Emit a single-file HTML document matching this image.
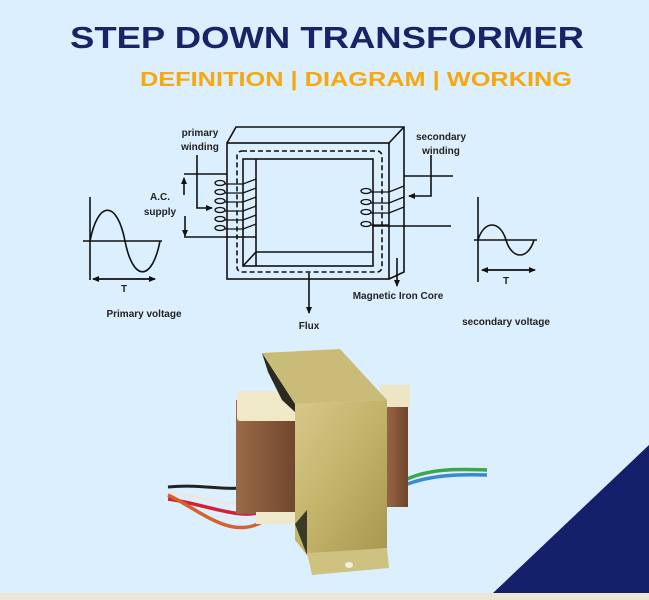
<!DOCTYPE html>
<html><head><meta charset="utf-8"><style>
html,body{margin:0;padding:0;width:649px;height:600px;overflow:hidden;background:#dcefff;}
svg{display:block}
</style></head><body>
<svg width="649" height="600" viewBox="0 0 649 600" xmlns="http://www.w3.org/2000/svg">
<defs>
<marker id="ah" markerWidth="8" markerHeight="8" refX="6" refY="4" orient="auto" markerUnits="userSpaceOnUse"><path d="M0,1 L7,4 L0,7 z" fill="#111"/></marker>
<linearGradient id="gold" x1="0" y1="0" x2="1" y2="1"><stop offset="0" stop-color="#d6c98a"/><stop offset="0.5" stop-color="#c2b36a"/><stop offset="1" stop-color="#a8974e"/></linearGradient>
<linearGradient id="brown" x1="0" y1="0" x2="1" y2="0"><stop offset="0" stop-color="#9a6a47"/><stop offset="0.4" stop-color="#8a5c3d"/><stop offset="1" stop-color="#6e452c"/></linearGradient>
</defs>
<rect width="649" height="600" fill="#dcefff"/>
<rect y="593" width="649" height="7" fill="#ede6d6"/>
<polygon points="493,593 649,445 649,593" fill="#15206a"/>

<text x="327" y="48" text-anchor="middle" font-family="Liberation Sans, sans-serif" font-weight="bold" font-size="31" fill="#182468" textLength="514" lengthAdjust="spacingAndGlyphs">STEP DOWN TRANSFORMER</text>
<text x="140" y="86" font-family="Liberation Sans, sans-serif" font-weight="bold" font-size="20" fill="#f6a810" textLength="432" lengthAdjust="spacingAndGlyphs">DEFINITION | DIAGRAM  | WORKING</text>

<g stroke="#111" stroke-width="1.6" fill="none">
<rect x="227" y="143" width="162" height="136"/>
<polyline points="227,143 236,127 404,127 404,272 389,279"/>
<line x1="389" y1="143" x2="404" y2="127"/>
<rect x="243" y="159" width="130" height="107"/>
<polyline points="256,266 256,159"/>
<polyline points="243,266 256,252 373,252"/>
<rect x="237" y="151" width="145" height="121" rx="5" stroke-dasharray="5,3"/>
<g stroke-width="1.3">
<ellipse cx="220" cy="183" rx="5" ry="2.5"/><ellipse cx="220" cy="192" rx="5" ry="2.5"/><ellipse cx="220" cy="201" rx="5" ry="2.5"/><ellipse cx="220" cy="210" rx="5" ry="2.5"/><ellipse cx="220" cy="219" rx="5" ry="2.5"/><ellipse cx="220" cy="228" rx="5" ry="2.5"/>
<path d="M225,184 H243 L256,179 M225,193 H243 L256,188 M225,202 H243 L256,197 M225,211 H243 L256,206 M225,220 H243 L256,215 M225,229 H243 L256,224"/>
<ellipse cx="366" cy="191" rx="5" ry="2.5"/><ellipse cx="366" cy="202" rx="5" ry="2.5"/><ellipse cx="366" cy="212" rx="5" ry="2.5"/><ellipse cx="366" cy="224" rx="5" ry="2.5"/>
<path d="M371,192 H389 L404,186 M371,203 H389 L404,197 M371,213 H389 L404,207 M371,225 H389"/>
</g>
<line x1="184" y1="174" x2="227" y2="174"/>
<line x1="184" y1="237" x2="256" y2="237"/>
<line x1="404" y1="176" x2="453" y2="176"/>
<line x1="372" y1="226" x2="451" y2="226"/>
<line x1="184" y1="195" x2="184" y2="178" marker-end="url(#ah)"/>
<line x1="185" y1="216" x2="185" y2="236" marker-end="url(#ah)"/>
<polyline points="197,155 197,208 212,208" marker-end="url(#ah)"/>
<polyline points="431,155 431,196 409,196" marker-end="url(#ah)"/>
<line x1="397" y1="258" x2="397" y2="286" marker-end="url(#ah)"/>
<line x1="309" y1="273" x2="309" y2="313" marker-end="url(#ah)"/>
<line x1="90" y1="197" x2="90" y2="280"/>
<line x1="83" y1="241" x2="162" y2="241"/>
<path d="M90,241 C98,200 117,200 125,241 C133,282 152,282 160,241"/>
<line x1="93" y1="279" x2="155" y2="279" marker-end="url(#ah)"/>
<line x1="155" y1="279" x2="93" y2="279" marker-end="url(#ah)"/>
<line x1="478" y1="197" x2="478" y2="282"/>
<line x1="474" y1="240" x2="537" y2="240"/>
<path d="M478,240 C484,220 500,220 506,240 C512,260 528,260 534,240"/>
<line x1="482" y1="270" x2="535" y2="270" marker-end="url(#ah)"/>
<line x1="535" y1="270" x2="482" y2="270" marker-end="url(#ah)"/>
</g>
<g font-family="Liberation Sans, sans-serif" font-weight="bold" font-size="10" fill="#222" text-anchor="middle">
<text x="200" y="136">primary</text><text x="200" y="150">winding</text>
<text x="441" y="140">secondary</text><text x="441" y="154">winding</text>
<text x="160" y="200">A.C.</text><text x="160" y="215">supply</text>
<text x="124" y="292">T</text><text x="506" y="284">T</text>
<text x="144" y="317">Primary voltage</text>
<text x="309" y="329">Flux</text>
<text x="398" y="299">Magnetic Iron Core</text>
<text x="506" y="325">secondary voltage</text>
</g>

<g>
<path d="M168,487 C200,484 220,490 240,488" stroke="#222" stroke-width="3" fill="none"/>
<path d="M168,493 C200,495 225,508 245,502" stroke="#e8e8e8" stroke-width="3.5" fill="none"/>
<path d="M168,499 C200,503 240,520 260,512" stroke="#d42030" stroke-width="3.5" fill="none"/>
<path d="M168,495 C200,510 230,540 262,522" stroke="#d8602a" stroke-width="3.5" fill="none"/>
<path d="M405,480 C430,468 460,469 487,470" stroke="#3aa844" stroke-width="3.5" fill="none"/>
<path d="M405,485 C430,475 460,474 487,475" stroke="#3a88d0" stroke-width="3.5" fill="none"/>
<rect x="383" y="395" width="25" height="112" fill="url(#brown)"/>
<rect x="380" y="385" width="30" height="22" fill="#ece6c4"/>
<rect x="236" y="400" width="62" height="114" fill="url(#brown)"/>
<rect x="237" y="391" width="62" height="30" fill="#efe9c8" rx="3"/>
<rect x="256" y="512" width="100" height="12" fill="#eee8cc"/>
<polygon points="262,353 340,349 387,400 295,404" fill="#c9bc78"/>
<polygon points="262,353 295,404 295,412 282,400 268,372" fill="#2a2a1e"/>
<polygon points="295,404 387,400 387,548 307,555 295,540" fill="url(#gold)"/>
<polygon points="295,524 307,555 307,510" fill="#3a3a2a"/>
<polygon points="307,553 387,548 389,568 312,575" fill="#cfc180"/>
<ellipse cx="349" cy="565" rx="4" ry="3" fill="#f4f0e0"/>
</g>
</svg>
</body></html>
